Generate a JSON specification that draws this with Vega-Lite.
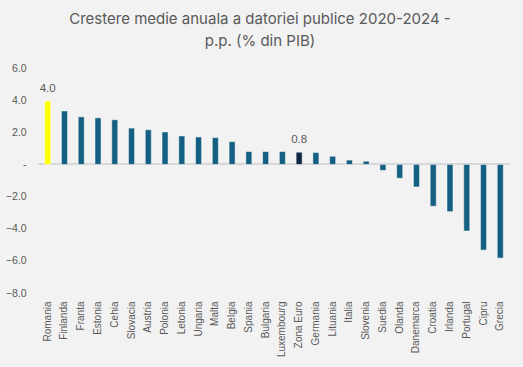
{
  "$schema": "https://vega.github.io/schema/vega-lite/v6.json",
  "autosize": "none",
  "width": 472,
  "height": 225,
  "padding": {"left": 38, "top": 68, "right": 13, "bottom": 74},
  "background": "#f2f2f2",
  "config": {"view": {"stroke": null}, "font": "Liberation Sans"},
  "title": {
    "text": ["Crestere medie anuala a datoriei publice 2020-2024 -", "p.p. (% din PIB)"],
    "font": "Inter",
    "fontSize": 15,
    "fontWeight": "normal",
    "color": "#595959",
    "lineHeight": 22,
    "offset": 14,
    "dx": -14,
    "anchor": "middle"
  },
  "data": {
    "values": [
      {"tara": "Romania", "val": 3.95, "grp": "ro", "lbl": "4.0"},
      {"tara": "Finlanda", "val": 3.33, "grp": "eu", "lbl": ""},
      {"tara": "Franta", "val": 2.96, "grp": "eu", "lbl": ""},
      {"tara": "Estonia", "val": 2.9, "grp": "eu", "lbl": ""},
      {"tara": "Cehia", "val": 2.78, "grp": "eu", "lbl": ""},
      {"tara": "Slovacia", "val": 2.26, "grp": "eu", "lbl": ""},
      {"tara": "Austria", "val": 2.16, "grp": "eu", "lbl": ""},
      {"tara": "Polonia", "val": 2.02, "grp": "eu", "lbl": ""},
      {"tara": "Letonia", "val": 1.77, "grp": "eu", "lbl": ""},
      {"tara": "Ungaria", "val": 1.71, "grp": "eu", "lbl": ""},
      {"tara": "Malta", "val": 1.67, "grp": "eu", "lbl": ""},
      {"tara": "Belgia", "val": 1.42, "grp": "eu", "lbl": ""},
      {"tara": "Spania", "val": 0.8, "grp": "eu", "lbl": ""},
      {"tara": "Bulgaria", "val": 0.8, "grp": "eu", "lbl": ""},
      {"tara": "Luxembourg", "val": 0.8, "grp": "eu", "lbl": ""},
      {"tara": "Zona Euro", "val": 0.76, "grp": "ze", "lbl": "0.8"},
      {"tara": "Germania", "val": 0.74, "grp": "eu", "lbl": ""},
      {"tara": "Lituania", "val": 0.51, "grp": "eu", "lbl": ""},
      {"tara": "Italia", "val": 0.27, "grp": "eu", "lbl": ""},
      {"tara": "Slovenia", "val": 0.2, "grp": "eu", "lbl": ""},
      {"tara": "Suedia", "val": -0.37, "grp": "eu", "lbl": ""},
      {"tara": "Olanda", "val": -0.86, "grp": "eu", "lbl": ""},
      {"tara": "Danemarca", "val": -1.4, "grp": "eu", "lbl": ""},
      {"tara": "Croatia", "val": -2.6, "grp": "eu", "lbl": ""},
      {"tara": "Irlanda", "val": -2.94, "grp": "eu", "lbl": ""},
      {"tara": "Portugal", "val": -4.14, "grp": "eu", "lbl": ""},
      {"tara": "Cipru", "val": -5.33, "grp": "eu", "lbl": ""},
      {"tara": "Grecia", "val": -5.83, "grp": "eu", "lbl": ""}
    ]
  },
  "encoding": {
    "x": {
      "field": "tara",
      "type": "nominal",
      "sort": null,
      "scale": {"paddingInner": 0.64, "paddingOuter": 0.4},
      "axis": {
        "title": null,
        "labelAngle": -90,
        "labelFontSize": 10,
        "labelColor": "#595959",
        "labelPadding": 8,
        "ticks": false,
        "domain": false
      }
    },
    "y": {
      "field": "val",
      "type": "quantitative",
      "scale": {"domain": [-8, 6], "nice": false, "zero": false},
      "axis": {
        "title": null,
        "values": [-8, -6, -4, -2, 0, 2, 4, 6],
        "labelExpr": "datum.value == 0 ? '-   ' : format(datum.value, '.1f')",
        "labelFontSize": 10.5,
        "labelColor": "#595959",
        "labelPadding": 12,
        "grid": false,
        "ticks": false,
        "domain": false
      }
    }
  },
  "layer": [
    {
      "mark": {"type": "rule", "color": "#d9d9d9", "strokeWidth": 1},
      "encoding": {"y": {"datum": 0}, "x": null}
    },
    {
      "mark": {"type": "bar", "stroke": "#ffffff", "strokeWidth": 0.6, "strokeOpacity": 0.8},
      "encoding": {
        "color": {
          "field": "grp",
          "type": "nominal",
          "scale": {"domain": ["ro", "eu", "ze"], "range": ["#ffff00", "#156082", "#0e2841"]},
          "legend": null
        }
      }
    },
    {
      "mark": {"type": "text", "dy": -12, "fontSize": 11.5, "color": "#595959"},
      "encoding": {"text": {"field": "lbl"}}
    }
  ]
}
